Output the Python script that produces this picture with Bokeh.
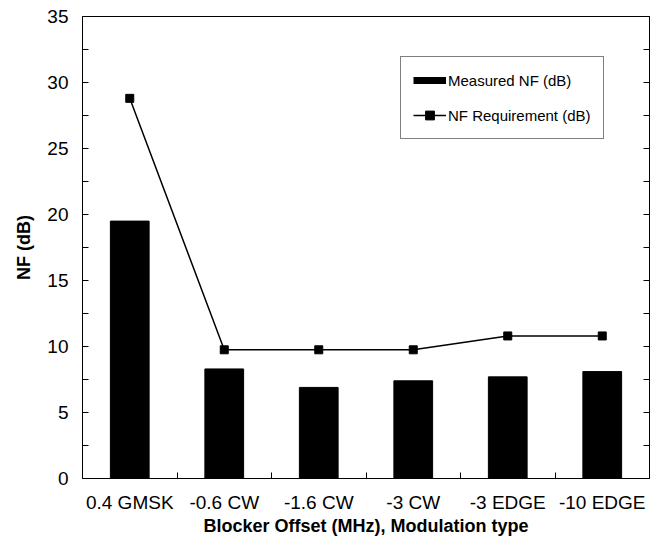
from bokeh.plotting import figure
from bokeh.models import (ColumnDataSource, FixedTicker, LinearAxis, Range1d,
                          Legend, LegendItem)
from bokeh.embed import file_html
from bokeh.resources import INLINE

# Blocker scenarios (offset in MHz, modulation type)
categories = ["0.4 GMSK", "-0.6 CW", "-1.6 CW", "-3 CW", "-3 EDGE", "-10 EDGE"]
# Measured noise figure per scenario (dB)
measured_nf = [19.5, 8.3, 6.9, 7.4, 7.7, 8.1]
# Required noise figure per scenario (dB)
nf_requirement = [28.8, 9.75, 9.75, 9.75, 10.8, 10.8]
# Y axis labelled ticks
y_ticks = [0, 5, 10, 15, 20, 25, 30, 35]

positions = list(range(1, len(categories) + 1))
half_steps = [t + 2.5 for t in y_ticks[:-1]]
source = ColumnDataSource(dict(x=positions, nf=measured_nf, req=nf_requirement))

FONT = "Liberation Sans"

p = figure(width=655, height=546, output_backend="svg", toolbar_location=None,
           x_range=Range1d(0.5, len(categories) + 0.5), y_range=Range1d(0, 35),
           min_border_left=82, min_border_right=6, min_border_top=16,
           min_border_bottom=68)
p.xgrid.visible = False
p.ygrid.visible = False
p.outline_line_color = "black"
p.outline_line_width = 1
p.background_fill_color = "white"
p.border_fill_color = "white"

bars = p.vbar(x="x", top="nf", width=0.41, source=source,
              fill_color="black", line_color="black")
req_line = p.line(x="x", y="req", source=source, line_color="black", line_width=1.5)
req_pts = p.scatter(x="x", y="req", source=source, marker="square", size=8,
                    fill_color="black", line_color="black")

# Legend swatch for the bars: a thick short bar (no points of its own)
swatch = p.line(x=[float("nan")], y=[float("nan")], line_color="black", line_width=7)

# X axis: labels at category centres, tick marks between categories
xa = p.xaxis[0]
xa.ticker = FixedTicker(ticks=positions,
                        minor_ticks=[i + 0.5 for i in positions[:-1]])
xa.major_label_overrides = {i: c for i, c in zip(positions, categories)}
xa.major_tick_in = 0
xa.major_tick_out = 0
xa.minor_tick_in = 6
xa.minor_tick_out = 0
xa.major_label_standoff = 13
xa.axis_label = "Blocker Offset (MHz), Modulation type"
xa.axis_label_standoff = 0

# Y axis: ticks every 5 with minor ticks in between, pointing inwards
ya = p.yaxis[0]
ya.ticker = FixedTicker(ticks=y_ticks, minor_ticks=half_steps)
ya.major_tick_in = 6
ya.major_tick_out = 0
ya.minor_tick_in = 6
ya.minor_tick_out = 0
ya.major_label_standoff = 14
ya.axis_label = "NF (dB)"
ya.axis_label_standoff = 10

for ax in (xa, ya):
    ax.axis_line_color = "black"
    ax.major_tick_line_color = "black"
    ax.minor_tick_line_color = "black"
    ax.major_label_text_font = FONT
    ax.major_label_text_font_size = "19px"
    ax.major_label_text_color = "black"
    ax.axis_label_text_font = FONT
    ax.axis_label_text_font_size = "18px"
    ax.axis_label_text_font_style = "bold"
    ax.axis_label_text_color = "black"

# Mirrored, unlabelled tick marks on the right side of the frame
ra = LinearAxis(ticker=FixedTicker(ticks=[], minor_ticks=sorted(y_ticks + half_steps)))
ra.major_tick_in = 0
ra.major_tick_out = 0
ra.minor_tick_in = 6
ra.minor_tick_out = 0
ra.minor_tick_line_color = "black"
ra.axis_line_color = "black"
p.add_layout(ra, "right")

legend = Legend(items=[
    LegendItem(label="Measured NF (dB)", renderers=[swatch]),
    LegendItem(label="NF Requirement (dB)", renderers=[req_line, req_pts]),
], location=(318, 339))
legend.label_text_font = FONT
legend.label_text_font_size = "15px"
legend.label_text_color = "black"
legend.border_line_color = "black"
legend.border_line_width = 1
legend.background_fill_color = "white"
legend.background_fill_alpha = 1
legend.padding = 12
legend.margin = 0
legend.spacing = 13
legend.glyph_width = 33
legend.glyph_height = 22
legend.label_height = 22
legend.label_standoff = 2
p.add_layout(legend, "center")

open("out.html", "w").write(file_html(p, INLINE))
